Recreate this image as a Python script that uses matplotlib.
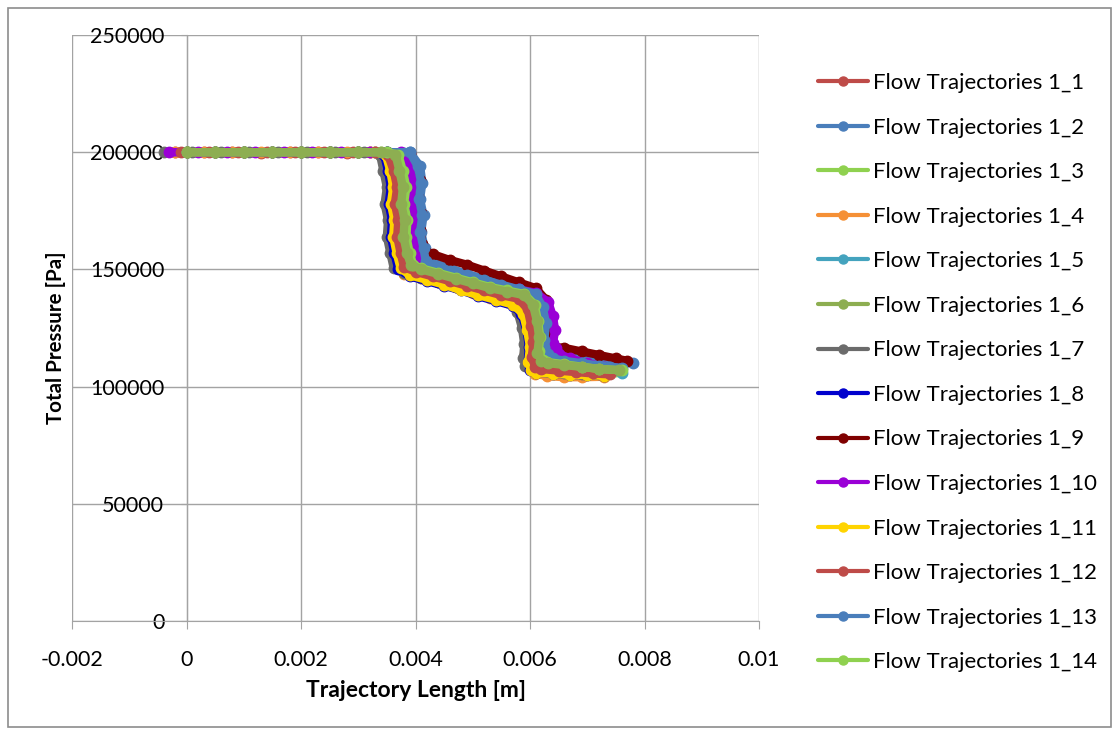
import matplotlib.pyplot as plt
from matplotlib.patches import Rectangle

plt.rcParams['font.family'] = ['Lato', 'DejaVu Sans']

# trajectory length [m] and total pressure [Pa] along each flow trajectory
x_1_1 = [-0.0002, 0.0003, 0.0008, 0.0013, 0.0018, 0.0023, 0.0028, 0.0032,
         0.00345, 0.00352, 0.00358, 0.00356, 0.00362, 0.00360, 0.00366,
         0.00372, 0.00385, 0.0041, 0.0044, 0.0047, 0.0050, 0.0053, 0.0056,
         0.00585, 0.00598, 0.00603, 0.00600,
         0.00606, 0.00615, 0.0064, 0.0067, 0.0070, 0.0073]
p_1_1 = [200000, 200000, 200000, 199800, 200000, 200000, 199800, 200000,
         199000, 192000, 185000, 178000, 171000, 164000, 157000,
         151000, 148500, 147500, 145500, 143500, 141500, 139500, 138000,
         136000, 131000, 124000, 117000,
         111000, 108000, 107200, 106500, 106000, 105500]

x_1_2 = [0.0, 0.0005, 0.0010, 0.0015, 0.0020, 0.0025, 0.0030, 0.0035,
         0.0039, 0.00408, 0.00412, 0.00408, 0.00414, 0.00410, 0.00416,
         0.00420, 0.0043, 0.0046, 0.0049, 0.0052, 0.0055, 0.0058, 0.0061,
         0.00625, 0.00632, 0.00628, 0.00634,
         0.0064, 0.0066, 0.0069, 0.0072, 0.0075, 0.0078]
p_1_2 = [200000, 200000, 200000, 200000, 200000, 200000, 200000, 200000,
         200000, 194000, 187000, 180000, 173000, 166000, 159000,
         154000, 153000, 150500, 148000, 146000, 144000, 142000, 140000,
         136000, 129000, 122000, 116000,
         114500, 114000, 113000, 112000, 111000, 110000]

x_1_3 = [0.0, 0.0005, 0.0010, 0.0015, 0.0020, 0.0025, 0.0030, 0.0034,
         0.00362, 0.00368, 0.00372, 0.00370, 0.00376, 0.00374, 0.00380,
         0.00386, 0.0040, 0.0043, 0.0046, 0.0049, 0.0052, 0.0055, 0.0058,
         0.00600, 0.00608, 0.00612, 0.00610,
         0.00616, 0.00625, 0.0065, 0.0068, 0.0071, 0.0075]
p_1_3 = [200000, 200000, 200000, 200000, 200000, 200000, 200000, 200000,
         199000, 192000, 185000, 178000, 171000, 164000, 157000,
         152000, 150000, 148500, 146500, 144500, 142500, 140500, 139000,
         137000, 131000, 124000, 117000,
         111500, 109000, 108200, 107500, 107000, 106500]

x_1_4 = [-0.0002, 0.0003, 0.0008, 0.0013, 0.0018, 0.0023, 0.0028, 0.0032,
         0.00342, 0.00348, 0.00354, 0.00350, 0.00356, 0.00354, 0.00360,
         0.00366, 0.0038, 0.0041, 0.0044, 0.0047, 0.0050, 0.0053, 0.0056,
         0.00580, 0.00590, 0.00594, 0.00592,
         0.00598, 0.00608, 0.0063, 0.0066, 0.0069, 0.0073]
p_1_4 = [200000, 200000, 200000, 200000, 200000, 200000, 200000, 200000,
         199000, 192000, 185000, 178000, 171000, 164000, 157000,
         150500, 148000, 146500, 144500, 142500, 140000, 138000, 136000,
         133500, 128000, 121000, 114000,
         108500, 105500, 104500, 104000, 104000, 104200]

x_1_5 = [0.0, 0.0005, 0.0010, 0.0015, 0.0020, 0.0025, 0.0030, 0.0035,
         0.00380, 0.00390, 0.00396, 0.00392, 0.00398, 0.00396, 0.00402,
         0.00406, 0.0042, 0.0045, 0.0048, 0.0051, 0.0054, 0.0057, 0.0060,
         0.00618, 0.00624, 0.00620, 0.00626,
         0.00632, 0.0064, 0.0067, 0.0070, 0.0073, 0.0076]
p_1_5 = [200000, 200000, 200000, 200000, 200000, 200000, 200000, 200000,
         199500, 193000, 186000, 179000, 172000, 165000, 158000,
         153000, 150500, 148000, 146000, 144000, 142000, 140500, 139000,
         134000, 127000, 120000, 114000,
         111000, 110000, 109000, 108000, 107000, 106000]

x_1_6 = [0.0, 0.0005, 0.0010, 0.0015, 0.0020, 0.0025, 0.0030, 0.0034,
         0.00365, 0.00372, 0.00378, 0.00375, 0.00381, 0.00379, 0.00385,
         0.00392, 0.0041, 0.0044, 0.0047, 0.0050, 0.0053, 0.0056, 0.0059,
         0.00605, 0.00612, 0.00616, 0.00613,
         0.00620, 0.00632, 0.0066, 0.0069, 0.0072, 0.00755]
p_1_6 = [200000, 200000, 200000, 200000, 200000, 200000, 200000, 200000,
         199000, 192000, 185000, 178000, 171000, 164000, 157000,
         152000, 150000, 148000, 146000, 144000, 142000, 140500, 139000,
         135000, 128000, 121000, 114500,
         111000, 110000, 109200, 108400, 107600, 107000]

x_1_7 = [-0.0004, 0.0001, 0.0006, 0.0011, 0.0016, 0.0021, 0.0026, 0.0031,
         0.00338, 0.00344, 0.00350, 0.00346, 0.00352, 0.00350, 0.00356,
         0.00362, 0.0038, 0.0041, 0.0044, 0.0047, 0.0050, 0.0053, 0.0056,
         0.00578, 0.00586, 0.00590, 0.00588,
         0.00592, 0.00602, 0.0063, 0.0066, 0.0069, 0.0072]
p_1_7 = [200000, 200000, 200000, 200000, 200000, 200000, 200000, 200000,
         199000, 192000, 185000, 178000, 171000, 164000, 157000,
         150500, 148500, 146500, 144500, 142500, 140500, 138500, 136500,
         132000, 125000, 118000, 112000,
         109000, 107500, 106500, 106000, 105500, 105200]

x_1_8 = [0.0, 0.0005, 0.0010, 0.0015, 0.0020, 0.0025, 0.0030, 0.0033,
         0.00345, 0.00352, 0.00357, 0.00353, 0.00359, 0.00357, 0.00363,
         0.00370, 0.0039, 0.0042, 0.0045, 0.0048, 0.0051, 0.0054, 0.0057,
         0.00585, 0.00594, 0.00598, 0.00596,
         0.00600, 0.0061, 0.0064, 0.0067, 0.0070, 0.0073]
p_1_8 = [200000, 200000, 200000, 200000, 200000, 200000, 200000, 200000,
         199000, 192000, 185000, 178000, 171000, 164000, 157000,
         150000, 147000, 145000, 143000, 141000, 138500, 136500, 134500,
         131000, 124000, 117000, 110500,
         107000, 106000, 105500, 105000, 104800, 104500]

x_1_9 = [0.0, 0.0005, 0.0010, 0.0015, 0.0020, 0.0025, 0.0030, 0.0035,
         0.0039, 0.00402, 0.00408, 0.00404, 0.00410, 0.00408, 0.00412,
         0.00416, 0.0043, 0.0046, 0.0049, 0.0052, 0.0055, 0.0058, 0.0061,
         0.00628, 0.00634, 0.00630, 0.00636,
         0.0064, 0.0066, 0.0069, 0.0072, 0.0075, 0.0077]
p_1_9 = [200000, 200000, 200000, 200000, 200000, 200000, 200000, 200000,
         199500, 194000, 188000, 181000, 174000, 167000, 161000,
         158000, 156500, 154000, 152000, 149500, 147000, 144500, 142000,
         137000, 130000, 123000, 118000,
         117000, 116500, 115000, 113500, 112000, 111000]

x_1_10 = [-0.0003, 0.0002, 0.0007, 0.0012, 0.0017, 0.0022, 0.0027, 0.0032,
          0.00375, 0.00390, 0.00396, 0.00392, 0.00398, 0.00396, 0.00402,
          0.00408, 0.0043, 0.0046, 0.0049, 0.0052, 0.0055, 0.0058, 0.0061,
          0.00632, 0.00640, 0.00644, 0.00640,
          0.00646, 0.0065, 0.0067, 0.0070, 0.0073, 0.0075]
p_1_10 = [200000, 200000, 200000, 200000, 200000, 200000, 200000, 200000,
          200000, 194000, 187000, 180000, 173000, 166000, 159000,
          153000, 151000, 149000, 147000, 145000, 143000, 141500, 140000,
          136000, 130000, 124000, 118500,
          116500, 114000, 112000, 110000, 108500, 107500]

x_1_11 = [0.0, 0.0005, 0.0010, 0.0015, 0.0020, 0.0025, 0.0030, 0.0033,
          0.00348, 0.00356, 0.00361, 0.00357, 0.00363, 0.00361, 0.00367,
          0.00374, 0.0039, 0.0042, 0.0045, 0.0048, 0.0051, 0.0054, 0.0057,
          0.00588, 0.00595, 0.00600, 0.00597,
          0.00602, 0.0061, 0.0064, 0.0067, 0.0070, 0.0073]
p_1_11 = [200000, 200000, 200000, 200000, 200000, 200000, 200000, 200000,
          199000, 192000, 185000, 178000, 171000, 164000, 157000,
          150500, 147500, 145500, 143500, 141000, 139000, 137000, 135000,
          131000, 124000, 117000, 110500,
          107000, 106000, 105500, 105000, 104800, 104600]

x_1_12 = [-0.0001, 0.0004, 0.0009, 0.0014, 0.0019, 0.0024, 0.0029, 0.0033,
          0.00352, 0.00362, 0.00368, 0.00364, 0.00370, 0.00368, 0.00374,
          0.00380, 0.0040, 0.0043, 0.0046, 0.0049, 0.0052, 0.0055, 0.0058,
          0.00596, 0.00602, 0.00606, 0.00603,
          0.00609, 0.0062, 0.0065, 0.0068, 0.0071, 0.0074]
p_1_12 = [200000, 200000, 200000, 200000, 200000, 200000, 200000, 200000,
          199000, 192000, 185000, 178000, 171000, 164000, 157000,
          151000, 149000, 147000, 145000, 143000, 141000, 139000, 137500,
          133000, 126000, 119000, 112500,
          108500, 107500, 106800, 106200, 105600, 105200]

x_1_13 = [0.0, 0.0005, 0.0010, 0.0015, 0.0020, 0.0025, 0.0030, 0.0035,
          0.0039, 0.00404, 0.00410, 0.00406, 0.00412, 0.00408, 0.00414,
          0.00418, 0.0043, 0.0046, 0.0049, 0.0052, 0.0055, 0.0058, 0.0061,
          0.00622, 0.00628, 0.00625, 0.00631,
          0.0064, 0.0066, 0.0069, 0.0072, 0.0074, 0.0076]
p_1_13 = [200000, 200000, 200000, 200000, 200000, 200000, 200000, 200000,
          200000, 194000, 187000, 180000, 173000, 166000, 159000,
          153500, 152000, 149500, 147500, 145500, 143500, 141500, 139500,
          134000, 127000, 120000, 114000,
          112000, 111000, 110000, 109000, 108500, 108000]

x_1_14 = [0.0, 0.0005, 0.0010, 0.0015, 0.0020, 0.0025, 0.0030, 0.0035,
          0.00370, 0.00378, 0.00384, 0.00380, 0.00386, 0.00384, 0.00390,
          0.00396, 0.0041, 0.0044, 0.0047, 0.0050, 0.0053, 0.0056, 0.0059,
          0.00608, 0.00614, 0.00618, 0.00615,
          0.00622, 0.0063, 0.0066, 0.0069, 0.0072, 0.0076]
p_1_14 = [200000, 200000, 200000, 200000, 200000, 200000, 200000, 200000,
          199000, 192000, 185000, 178000, 171000, 164000, 157000,
          152000, 150500, 148500, 146500, 144500, 142500, 141000, 139500,
          135000, 128000, 121000, 115000,
          111500, 110500, 109500, 108500, 107500, 107000]

labels = ["Flow Trajectories 1_%d" % i for i in range(1, 15)]
colors = ['#BE4B48', '#4A7EBB', '#8FD14F', '#F59036', '#44A3BE', '#8DAE51',
          '#6B6B6B', '#0000CD', '#7F0000', '#9A00D6', '#FFD400', '#BE4B48',
          '#4A7EBB', '#8FD14F']
xs = [x_1_1, x_1_2, x_1_3, x_1_4, x_1_5, x_1_6, x_1_7,
      x_1_8, x_1_9, x_1_10, x_1_11, x_1_12, x_1_13, x_1_14]
ps = [p_1_1, p_1_2, p_1_3, p_1_4, p_1_5, p_1_6, p_1_7,
      p_1_8, p_1_9, p_1_10, p_1_11, p_1_12, p_1_13, p_1_14]

x_ticks = [-0.002, 0, 0.002, 0.004, 0.006, 0.008, 0.01]
x_tick_labels = ["-0.002", "0", "0.002", "0.004", "0.006", "0.008", "0.01"]
y_ticks = [0, 50000, 100000, 150000, 200000, 250000]

fig = plt.figure(figsize=(11.19, 7.34), dpi=100)
fig.patches.append(Rectangle((8 / 1119, 7 / 734), 1103 / 1119, 719 / 734,
                             transform=fig.transFigure, fill=False,
                             edgecolor='#8C8C8C', linewidth=1.2))
ax = fig.add_axes([72 / 1119, 1 - 621 / 734, 687 / 1119, 586 / 734])

for i in range(14):
    # olive trajectory sits on top of the bundle
    z = 20 if i == 5 else 3 + i
    ax.plot(xs[i], ps[i], color=colors[i], linewidth=6, marker='o',
            markersize=7.5, label=labels[i], zorder=z, solid_capstyle='round')

ax.set_xlim(-0.002, 0.01)
ax.set_ylim(0, 250000)
ax.set_xticks(x_ticks)
ax.set_xticklabels(x_tick_labels)
ax.set_yticks(y_ticks)
ax.grid(True, color='#A3A3A3', linewidth=1.0)
ax.set_axisbelow(True)

for s in ['top', 'right']:
    ax.spines[s].set_visible(False)
ax.spines['bottom'].set_color('#A3A3A3')
ax.spines['left'].set_position(('data', 0))
ax.spines['left'].set_color('#A3A3A3')
ax.tick_params(axis='x', length=6, color='#A3A3A3', labelsize=15.5, pad=15)
ax.tick_params(axis='y', length=4, color='#A3A3A3', labelsize=15.5, pad=12)

ax.set_xlabel("Trajectory Length [m]", fontsize=16.5, fontweight='bold',
              labelpad=7)
ax.set_ylabel("Total Pressure [Pa]", fontsize=14.8, fontweight='bold')
ax.yaxis.set_label_coords(66 / 1119, 1 - 338 / 734, transform=fig.transFigure)

leg = ax.legend(loc='upper left', bbox_to_anchor=(818 / 1119, 1 - 73 / 734),
                bbox_transform=fig.transFigure, frameon=False, fontsize=16,
                handlelength=2.25, handletextpad=0.22, labelspacing=1.105,
                borderpad=0, borderaxespad=0)
for h in leg.legend_handles:
    h.set_linewidth(3)
    h.set_markersize(6.5)

fig.savefig("out.png", dpi=100)
